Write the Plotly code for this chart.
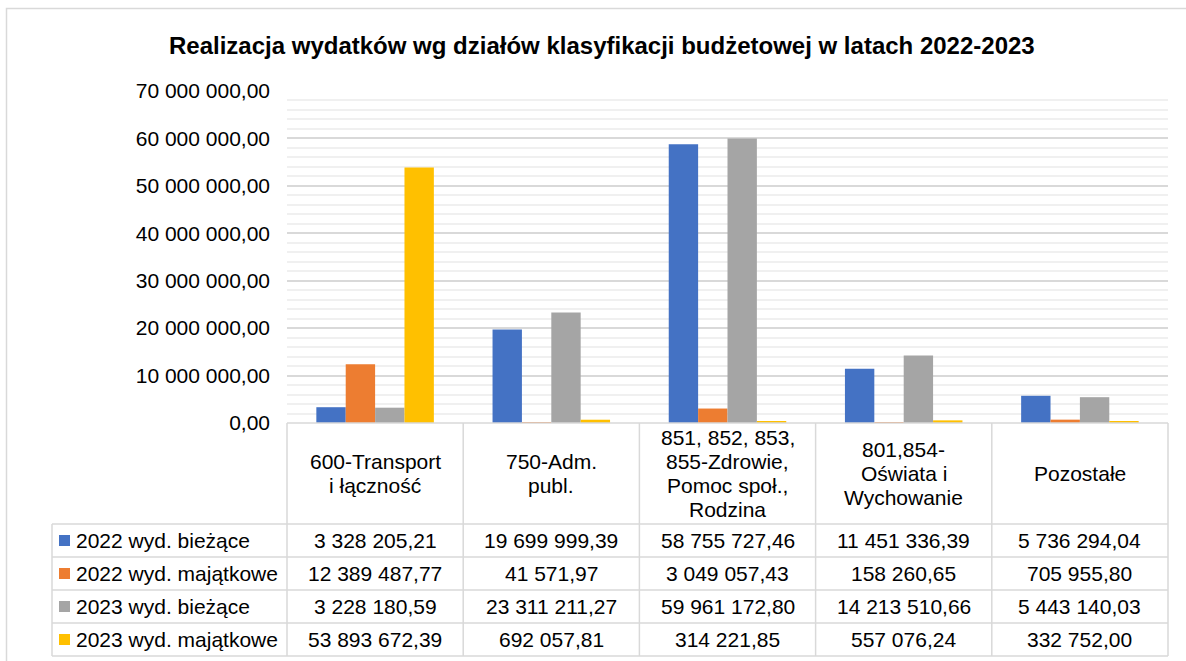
import plotly.graph_objects as go

# ---------------- data ----------------
categories = ["600-Transport i łączność", "750-Adm. publ.",
              "851, 852, 853, 855-Zdrowie, Pomoc społ., Rodzina",
              "801,854-Oświata i Wychowanie", "Pozostałe"]
header_lines = [["600-Transport", "i łączność"],
                ["750-Adm.", "publ."],
                ["851, 852, 853,", "855-Zdrowie,", "Pomoc społ.,", "Rodzina"],
                ["801,854-", "Oświata i", "Wychowanie"],
                ["Pozostałe"]]
series_names = ["2022 wyd. bieżące", "2022 wyd. majątkowe",
                "2023 wyd. bieżące", "2023 wyd. majątkowe"]
w2022_biezace = [3328205.21, 19699999.39, 58755727.46, 11451336.39, 5736294.04]
w2022_majatkowe = [12389487.77, 41571.97, 3049057.43, 158260.65, 705955.80]
w2023_biezace = [3228180.59, 23311211.27, 59961172.80, 14213510.66, 5443140.03]
w2023_majatkowe = [53893672.39, 692057.81, 314221.85, 557076.24, 332752.00]
series_values = [w2022_biezace, w2022_majatkowe, w2023_biezace, w2023_majatkowe]
colors = ["#4472C4", "#ED7D31", "#A5A5A5", "#FFC000"]
title_text = "Realizacja wydatków wg działów klasyfikacji budżetowej w latach 2022-2023"

# ---------------- layout geometry (pixels) ----------------
W, H = 1186, 661
PL, PR, PT, PB = 287, 1168, 91, 423
FONT = "Liberation Sans, Arial, sans-serif"
FS = 21
GRID = "#d9d9d9"


def px(x):
    return (x - PL) / (PR - PL)


def py(y):
    return (PB - y) / (PB - PT)


def fmt(v):
    return f"{v:,.2f}".replace(",", " ").replace(".", ",")


xs = list(range(len(categories)))
fig = go.Figure()
for name, vals, col in zip(series_names, series_values, colors):
    fig.add_trace(go.Bar(x=xs, y=vals, name=name, marker_color=col,
                         marker_line_width=0, showlegend=False))

shapes = []
annotations = []

# outer chart border
shapes.append(dict(type="rect", xref="paper", yref="paper",
                   x0=px(6.5), x1=px(1210), y0=py(8.5), y1=py(680),
                   line=dict(color=GRID, width=1.5), fillcolor="rgba(0,0,0,0)", layer="below"))

# table geometry
row_edges = [524, 557, 590, 623, 656]
header_top = PB
ncat = len(categories)
col_edges = [k / ncat for k in range(ncat + 1)]
line_style = dict(color=GRID, width=1.5)

shapes.append(dict(type="line", xref="paper", yref="paper", x0=0, x1=1,
                   y0=py(header_top), y1=py(header_top), line=line_style))
for ry in row_edges:
    shapes.append(dict(type="line", xref="paper", yref="paper", x0=px(52), x1=1,
                       y0=py(ry), y1=py(ry), line=line_style))
for cx in col_edges:
    shapes.append(dict(type="line", xref="paper", yref="paper", x0=cx, x1=cx,
                       y0=py(header_top), y1=py(row_edges[-1]), line=line_style))
shapes.append(dict(type="line", xref="paper", yref="paper", x0=px(52), x1=px(52),
                   y0=py(row_edges[0]), y1=py(row_edges[-1]), line=line_style))

# header text
hc = (header_top + row_edges[0]) / 2
LH = 24
for i, lines in enumerate(header_lines):
    n = len(lines)
    for k, ln in enumerate(lines):
        yy = hc + (k - (n - 1) / 2) * LH
        annotations.append(dict(x=i, xref="x", y=py(yy), yref="paper", text=ln,
                                showarrow=False, xanchor="center", yanchor="middle",
                                font=dict(family=FONT, size=FS, color="#000")))

# rows: swatch, label, values
for r, (name, vals, col) in enumerate(zip(series_names, series_values, colors)):
    top, bot = row_edges[r], row_edges[r + 1]
    cy = (top + bot) / 2
    shapes.append(dict(type="rect", xref="paper", yref="paper",
                       x0=px(59), x1=px(70), y0=py(cy - 5.5), y1=py(cy + 5.5),
                       fillcolor=col, line=dict(width=0)))
    annotations.append(dict(x=px(74), xref="paper", y=py(cy), yref="paper", text=name,
                            showarrow=False, xanchor="left", yanchor="middle",
                            font=dict(family=FONT, size=FS, color="#000")))
    for i, v in enumerate(vals):
        annotations.append(dict(x=i, xref="x", y=py(cy), yref="paper", text=fmt(v),
                                showarrow=False, xanchor="center", yanchor="middle",
                                font=dict(family=FONT, size=FS, color="#000")))

# title
annotations.append(dict(x=px(601.5), xref="paper", y=py(45), yref="paper",
                        text="<b>" + title_text + "</b>", showarrow=False,
                        xanchor="center", yanchor="middle",
                        font=dict(family=FONT, size=24, color="#000")))

fig.update_layout(
    width=W, height=H,
    margin=dict(l=PL, r=W - PR, t=PT, b=H - PB, pad=0),
    paper_bgcolor="white", plot_bgcolor="white",
    separators=", ",
    barmode="group", bargap=0.333, bargroupgap=0,
    shapes=shapes, annotations=annotations,
    xaxis=dict(range=[-0.5, ncat - 0.5], showticklabels=False, showgrid=False,
               zeroline=False, showline=False, fixedrange=True),
    yaxis=dict(range=[0, 70e6], dtick=10e6, tickformat=",.2f",
               showgrid=True, gridcolor=GRID, gridwidth=1.5,
               minor=dict(dtick=2e6, showgrid=True, gridcolor="#f0f0f0", gridwidth=1.5),
               zeroline=False, showline=False, ticks="", ticklabelstandoff=16,
               tickfont=dict(family=FONT, size=FS, color="#000"), fixedrange=True),
    font=dict(family=FONT),
)

fig.write_html("out.html", config={"displayModeBar": False},
               post_script="document.body.style.margin='0';document.body.style.padding='0';")
